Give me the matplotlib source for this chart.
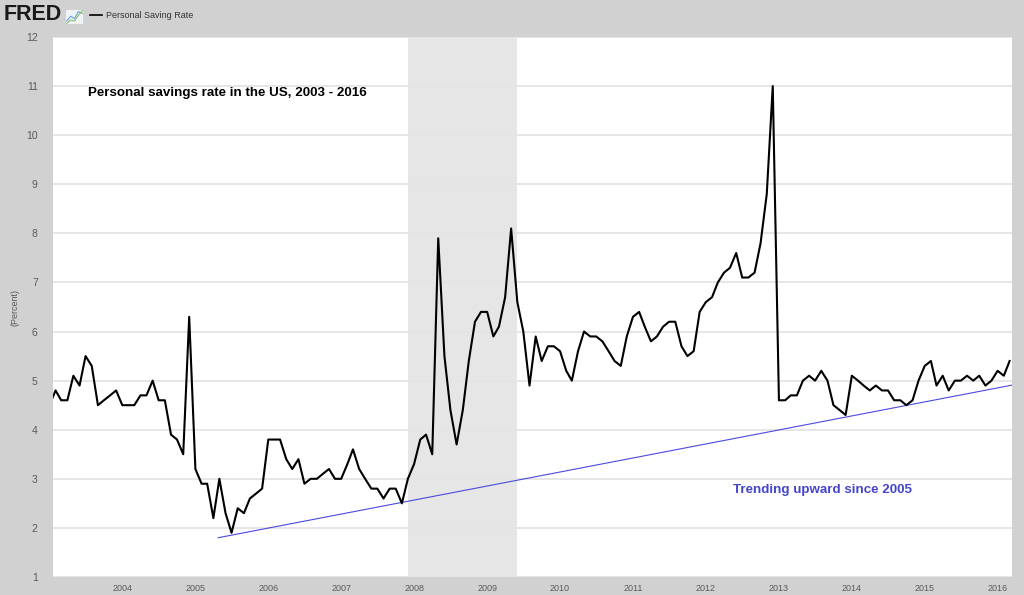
import numpy as np
import pandas as pd
import matplotlib
matplotlib.use("Agg")
import matplotlib.pyplot as plt

plt.rcParams['font.family'] = ['Liberation Sans', 'DejaVu Sans']

# ---- data ----
start_month = "2003-01-01"
saving_rate = [
    4.5, 4.8, 4.6, 4.6, 5.1, 4.9, 5.5, 5.3, 4.5, 4.6, 4.7, 4.8,   # 2003
    4.5, 4.5, 4.5, 4.7, 4.7, 5.0, 4.6, 4.6, 3.9, 3.8, 3.5, 6.3,   # 2004
    3.2, 2.9, 2.9, 2.2, 3.0, 2.3, 1.9, 2.4, 2.3, 2.6, 2.7, 2.8,   # 2005
    3.8, 3.8, 3.8, 3.4, 3.2, 3.4, 2.9, 3.0, 3.0, 3.1, 3.2, 3.0,   # 2006
    3.0, 3.3, 3.6, 3.2, 3.0, 2.8, 2.8, 2.6, 2.8, 2.8, 2.5, 3.0,   # 2007
    3.3, 3.8, 3.9, 3.5, 7.9, 5.5, 4.4, 3.7, 4.4, 5.4, 6.2, 6.4,   # 2008
    6.4, 5.9, 6.1, 6.7, 8.1, 6.6, 6.0, 4.9, 5.9, 5.4, 5.7, 5.7,   # 2009
    5.6, 5.2, 5.0, 5.6, 6.0, 5.9, 5.9, 5.8, 5.6, 5.4, 5.3, 5.9,   # 2010
    6.3, 6.4, 6.1, 5.8, 5.9, 6.1, 6.2, 6.2, 5.7, 5.5, 5.6, 6.4,   # 2011
    6.6, 6.7, 7.0, 7.2, 7.3, 7.6, 7.1, 7.1, 7.2, 7.8, 8.8, 11.0,  # 2012
    4.6, 4.6, 4.7, 4.7, 5.0, 5.1, 5.0, 5.2, 5.0, 4.5, 4.4, 4.3,   # 2013
    5.1, 5.0, 4.9, 4.8, 4.9, 4.8, 4.8, 4.6, 4.6, 4.5, 4.6, 5.0,   # 2014
    5.3, 5.4, 4.9, 5.1, 4.8, 5.0, 5.0, 5.1, 5.0, 5.1, 4.9, 5.0,   # 2015
    5.2, 5.1, 5.4,                                                 # 2016
]
recession_start = "2007-12-01"
recession_end = "2009-06-01"
trend_dates = ["2005-04-25", "2016-03-15"]
trend_values = [1.8, 4.91]
year_ticks = list(range(2004, 2017))
y_ticks = list(range(1, 13))
x_limits = ["2003-01-19", "2016-03-13"]

dates = pd.date_range(start_month, periods=len(saving_rate), freq="MS")

# ---- figure ----
bg = '#d1d1d1'
fig = plt.figure(figsize=(10.24, 5.95), dpi=100, facecolor=bg)
ax = fig.add_axes([53/1024, 18/595, (1012-53)/1024, (577-37)/595])
ax.set_facecolor('white')

ax.axvspan(pd.Timestamp(recession_start), pd.Timestamp(recession_end),
           color='#e6e6e6', zorder=0, lw=0)
for yv in y_ticks:
    ax.axhline(yv, color='#e4e4e4', lw=1.3, zorder=0.5)

ax.plot(dates, saving_rate, color='black', lw=1.5, zorder=3)
ax.plot(pd.to_datetime(trend_dates), trend_values, color='#4a4ae0', lw=0.8, zorder=2)

ax.set_xlim(pd.Timestamp(x_limits[0]), pd.Timestamp(x_limits[1]))
ax.set_ylim(1, 12)
ax.set_yticks(y_ticks)
ax.set_yticklabels([str(v) for v in y_ticks])
ax.set_xticks([pd.Timestamp(f"{y}-01-01") for y in year_ticks])
ax.set_xticklabels([str(y) for y in year_ticks])
ax.tick_params(axis='both', length=0, colors='#5a5a5a')
ax.tick_params(axis='y', labelsize=7.5, pad=11)
ax.tick_params(axis='x', labelsize=6.5, pad=5)
for s in ax.spines.values():
    s.set_visible(False)

fig.text(15/1024, 1 - 307/595, '(Percent)', rotation=90, ha='center', va='center',
         fontsize=6.5, color='#5a5a5a')

fig.text(88/1024, 1 - 93/595, 'Personal savings rate in the US, 2003 - 2016',
         fontsize=9.6, fontweight='bold', color='black', ha='left', va='center')
fig.text(733/1024, 1 - 490/595, 'Trending upward since 2005',
         fontsize=9.6, fontweight='bold', color='#4545cc', ha='left', va='center')

# header: FRED logo + legend
fig.text(4/1024, 1 - 15/595, 'FRED', fontsize=15.5, fontweight='bold', color='#1a1a1a',
         ha='left', va='center')
icon = fig.add_axes([66/1024, 1 - 24/595, 17/1024, 14/595])
icon.set_facecolor('#eef3f8')
icon.plot([0, 1, 2, 3, 4], [1, 2, 1.5, 3, 2.6], color='#6aa0d8', lw=0.8)
icon.plot([0, 1, 2, 3, 4], [0.5, 1.2, 1.0, 2.2, 3.2], color='#8cc060', lw=0.8)
icon.set_xticks([]); icon.set_yticks([])
for s in icon.spines.values():
    s.set_visible(False)
fig.add_artist(plt.Line2D([90/1024, 102/1024], [1 - 15/595, 1 - 15/595],
                          color='black', lw=1.2, transform=fig.transFigure))
fig.text(106/1024, 1 - 15/595, 'Personal Saving Rate', fontsize=6.5, color='#333333',
         ha='left', va='center')

fig.savefig('out.png', dpi=100, facecolor=bg)
